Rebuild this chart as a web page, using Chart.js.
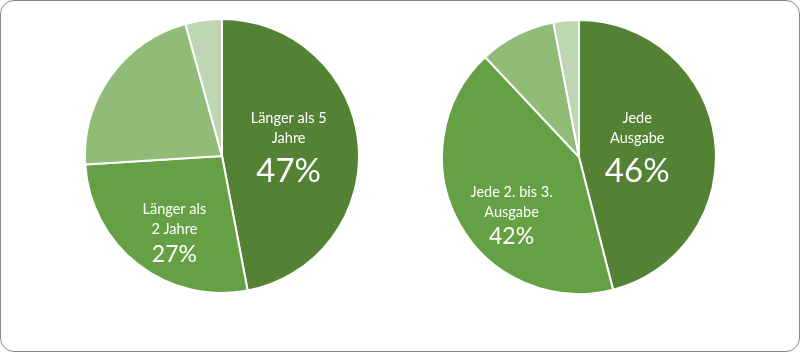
<!DOCTYPE html>
<html>
<head>
<meta charset="utf-8">
<script src="https://cdn.jsdelivr.net/npm/chart.js@4"></script>
<style>
html,body{margin:0;padding:0;background:#fff;}
#frame{position:absolute;left:0;top:0;width:798px;height:350px;border:1px solid #8a8a8a;border-radius:14px;background:#fff;overflow:hidden;}
.box{position:absolute;}
</style>
</head>
<body>
<div id="frame">
  <div class="box" style="left:83px;top:17px;width:276px;height:276px"><canvas id="pieLeft"></canvas></div>
  <div class="box" style="left:440px;top:18px;width:276px;height:276px"><canvas id="pieRight"></canvas></div>
</div>
<script>
const COLORS=['#548235','#65A144','#90BC78','#BED6B2'];

// left pie: duration
const leftLabels=[['Länger als 5','Jahre'],['Länger als','2 Jahre'],['',''],['','']];
const leftValues=[47,27,21.7,4.3];
const leftPct=['47%','27%','',''];

// right pie: frequency
const rightLabels=[['Jede','Ausgabe'],['Jede 2. bis 3.','Ausgabe'],['',''],['','']];
const rightValues=[46,42,9,3];
const rightPct=['46%','42%','',''];

const FONT='Lato, "Open Sans", sans-serif';

// label placement: fraction of radius, angle shift (deg), pct font size
const labelPlot={
  id:'sliceText',
  afterDatasetsDraw(chart,args,opts){
    const ctx=chart.ctx;
    const meta=chart.getDatasetMeta(0);
    meta.data.forEach((arc,i)=>{
      const pct=opts.pct[i];
      if(!pct)return;
      const p=arc.getProps(['x','y','startAngle','endAngle','outerRadius'],true);
      const a=(p.startAngle+p.endAngle)/2+opts.shift[i]*Math.PI/180;
      const d=p.outerRadius*opts.frac[i];
      const cx=p.x+Math.cos(a)*d, cy=p.y+Math.sin(a)*d;
      const lines=opts.names[i];
      const big=opts.size[i];
      const gap=big>30?5:2;
      const total=lines.length*20+gap+big*1.05;
      let y=cy-total/2;
      ctx.save();
      ctx.fillStyle='#fff';
      ctx.textAlign='center';
      ctx.textBaseline='middle';
      ctx.font='14.5px '+FONT;
      lines.forEach(t=>{ctx.fillText(t,cx,y+10);y+=20;});
      y+=gap;
      ctx.font=big+'px '+FONT;
      ctx.fillText(pct,cx,y+big*0.55);
      ctx.restore();
    });
  }
};

function pie(id,labels,values,pct,frac,shift,size){
  new Chart(document.getElementById(id),{
    type:'pie',
    data:{labels:labels.map(l=>l.join(' ')),datasets:[{data:values,backgroundColor:COLORS,borderColor:'#fff',borderWidth:2}]},
    options:{
      responsive:true,maintainAspectRatio:false,animation:false,
      layout:{padding:0},
      plugins:{legend:{display:false},tooltip:{enabled:false},
        sliceText:{names:labels,pct,frac,shift,size}}
    },
    plugins:[labelPlot]
  });
}

pie('pieLeft',leftLabels,leftValues,leftPct,[0.49,0.66,0,0],[-1.5,-6,0,0],[33,23,0,0]);
pie('pieRight',rightLabels,rightValues,rightPct,[0.43,0.65,0,0],[-1.5,-12,0,0],[33,23,0,0]);
</script>
</body>
</html>
